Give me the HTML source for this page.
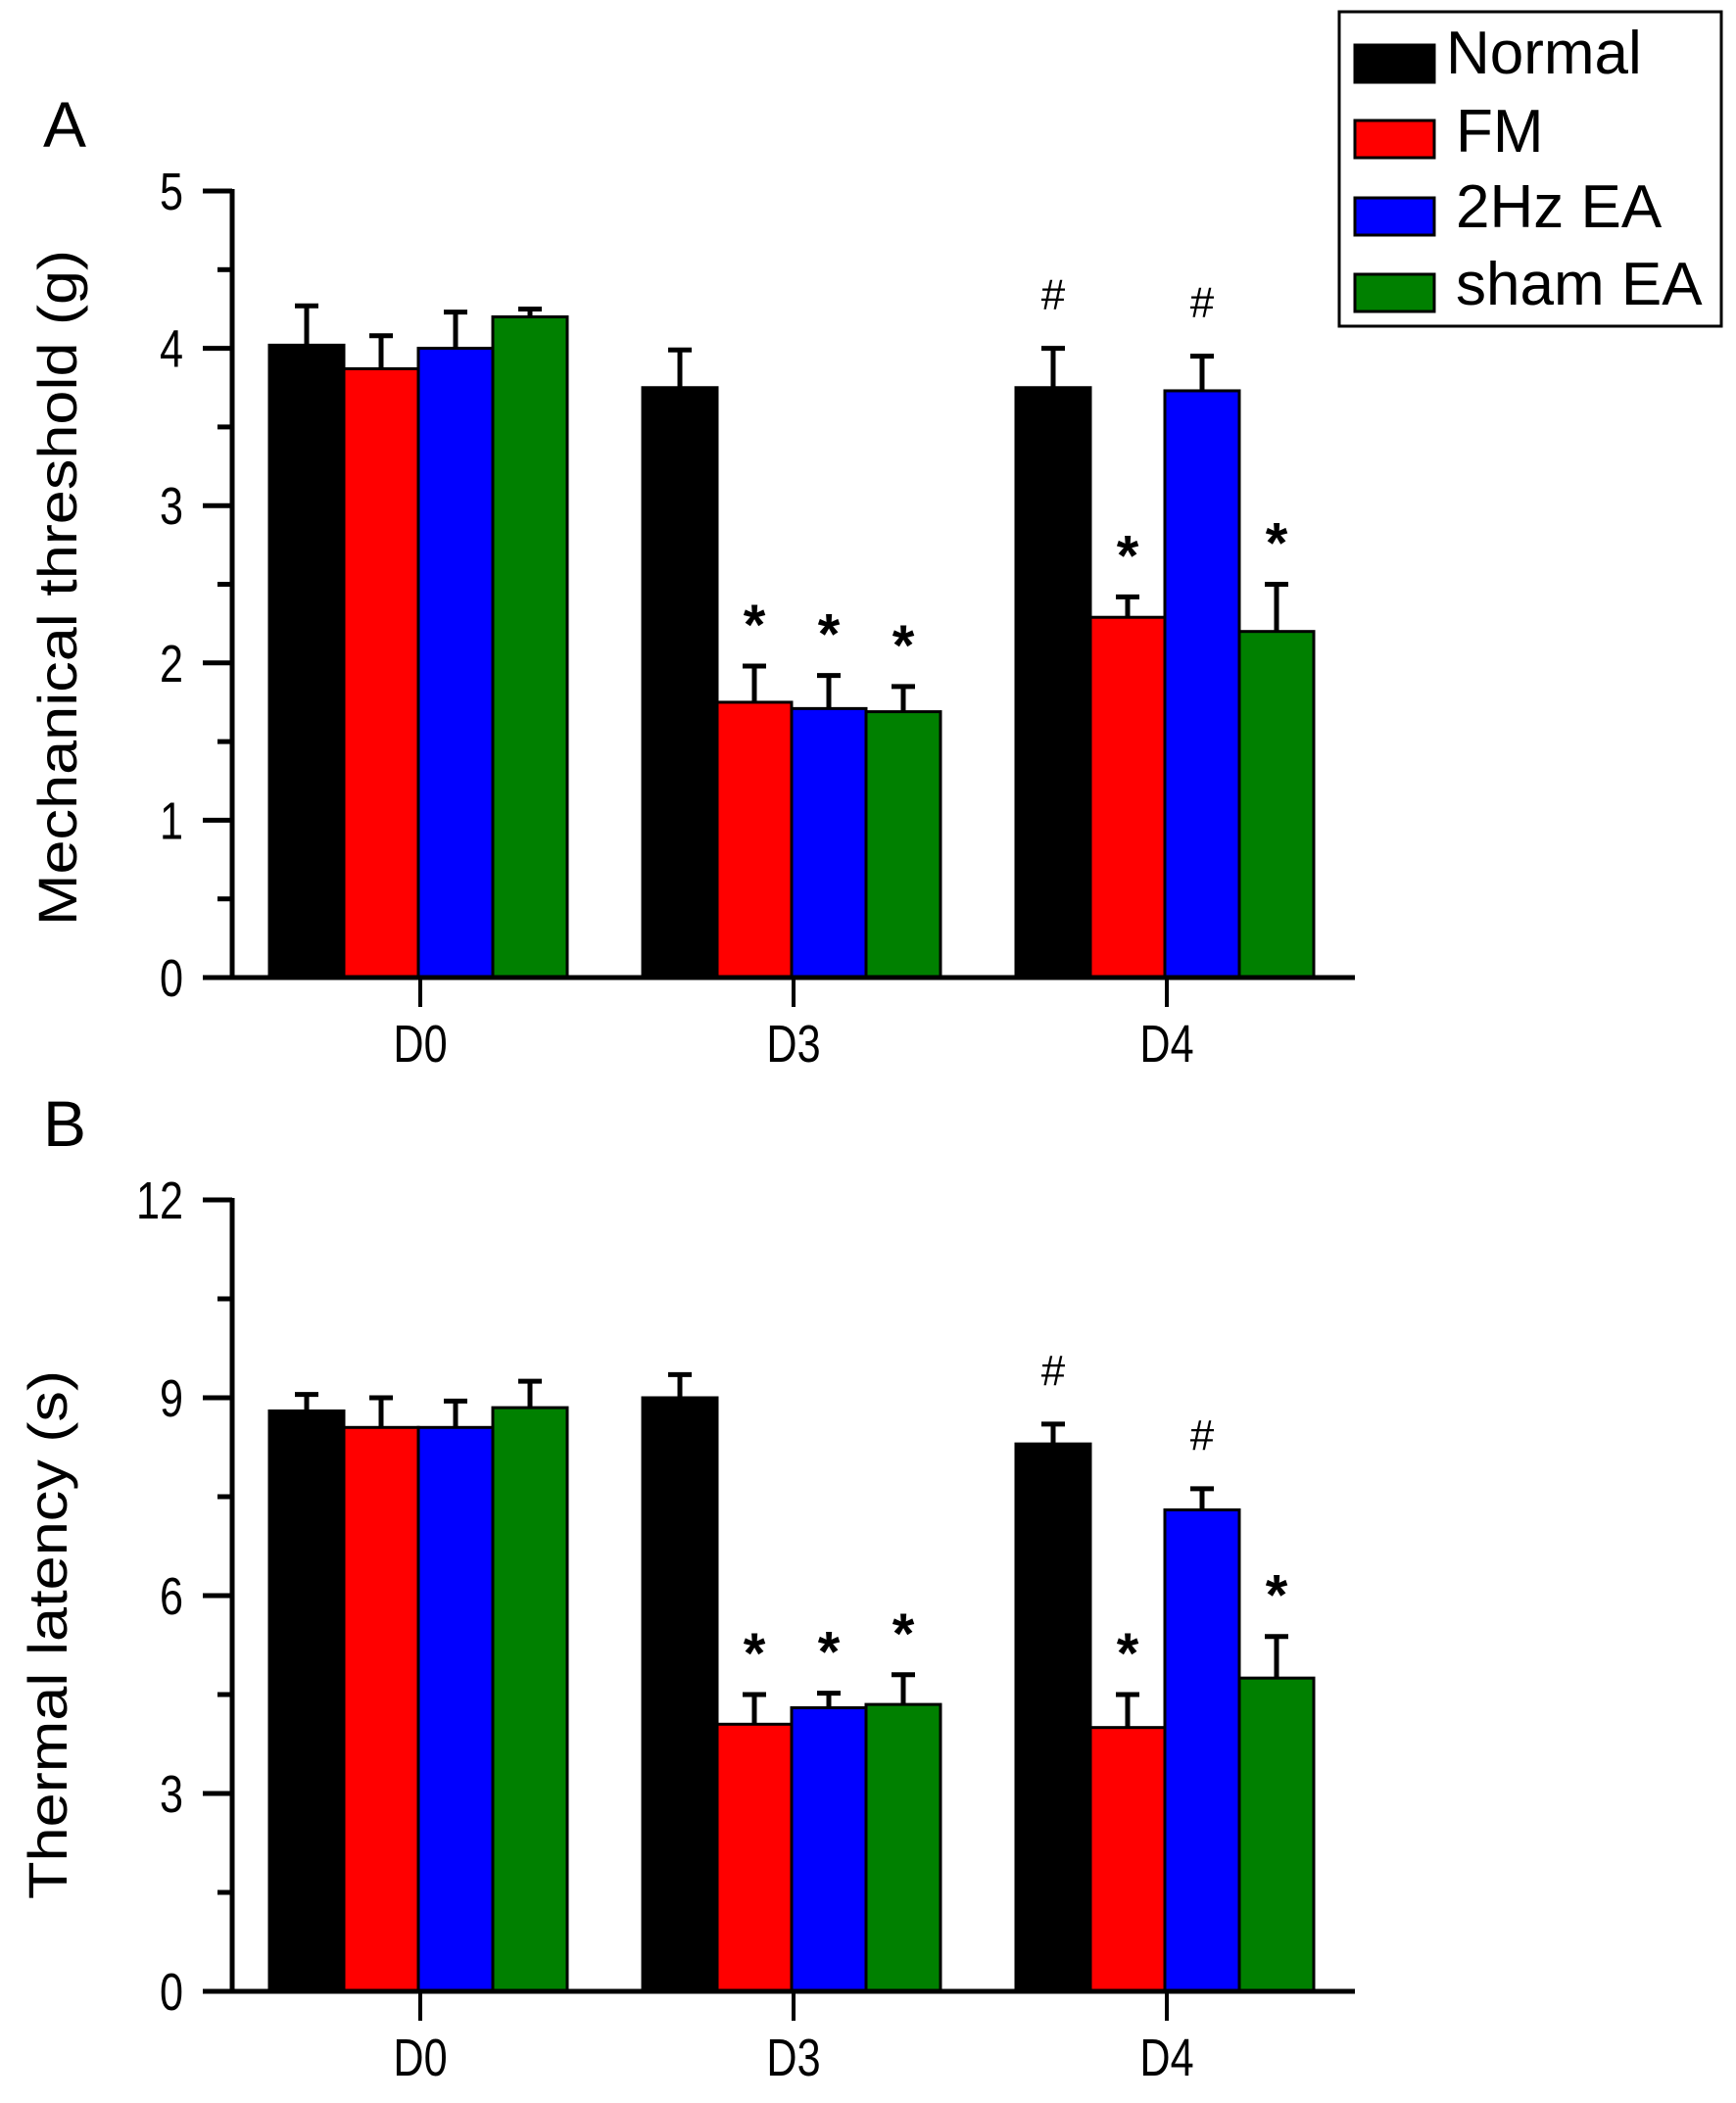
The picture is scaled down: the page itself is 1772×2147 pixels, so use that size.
<!DOCTYPE html>
<html><head><meta charset="utf-8">
<style>
html,body{margin:0;padding:0;background:#fff;}
svg{display:block;font-family:"Liberation Sans",Arial,sans-serif;}
</style></head>
<body>
<svg id="chart" width="1772" height="2147" viewBox="0 0 1772 2147" xmlns="http://www.w3.org/2000/svg">
<text x="44" y="150" font-size="66">A</text>
<text x="44" y="1170" font-size="66">B</text>
<text transform="translate(78,600) rotate(-90)" text-anchor="middle" font-size="56" textLength="690" lengthAdjust="spacingAndGlyphs">Mechanical threshold (g)</text>
<text transform="translate(68,1669) rotate(-90)" text-anchor="middle" font-size="56" textLength="540" lengthAdjust="spacingAndGlyphs">Thermal latency (s)</text>
<g id="legend">
<rect x="1367" y="12" width="390" height="321" fill="#fff" stroke="#000" stroke-width="3"/>
<rect x="1383" y="46" width="81" height="38" fill="#000" stroke="#000" stroke-width="3"/>
<text x="1476" y="75" font-size="62">Normal</text>
<rect x="1383" y="123" width="81" height="38" fill="#ff0000" stroke="#000" stroke-width="3"/>
<text x="1486" y="155" font-size="62">FM</text>
<rect x="1383" y="202" width="81" height="38" fill="#0000ff" stroke="#000" stroke-width="3"/>
<text x="1486" y="232" font-size="62">2Hz EA</text>
<rect x="1383" y="280" width="81" height="38" fill="#008000" stroke="#000" stroke-width="3"/>
<text x="1486" y="311" font-size="62">sham EA</text>
</g>
</svg>
<script>
const categories = ["D0","D3","D4"];
const seriesNames = ["Normal","FM","2Hz EA","sham EA"];
const colors = ["#000000","#ff0000","#0000ff","#008000"];
// Panel A: mechanical threshold (g)
const aNormal = [4.02,3.75,3.75];
const aFM = [3.87,1.75,2.29];
const a2Hz = [4.00,1.71,3.73];
const aSham = [4.20,1.69,2.20];
const aNormalErr = [0.25,0.24,0.25];
const aFMErr = [0.21,0.23,0.13];
const a2HzErr = [0.23,0.21,0.22];
const aShamErr = [0.05,0.16,0.30];
const aTicks = [0,1,2,3,4,5];
const aMarks = [["","","",""],["","*","*","*"],["#","*","#","*"]];
// Panel B: thermal latency (s)
const bNormal = [8.80,9.00,8.30];
const bFM = [8.55,4.05,4.00];
const b2Hz = [8.55,4.30,7.30];
const bSham = [8.85,4.35,4.75];
const bNormalErr = [0.25,0.35,0.30];
const bFMErr = [0.45,0.45,0.50];
const b2HzErr = [0.40,0.22,0.32];
const bShamErr = [0.40,0.45,0.63];
const bTicks = [0,3,6,9,12];
const bMarks = [["","","",""],["","*","*","*"],["#","*","#","*"]];

const NS = "http://www.w3.org/2000/svg";
const svg = document.getElementById("chart");
function mk(tag, attrs, parent){
  const e = document.createElementNS(NS, tag);
  for (const k in attrs) e.setAttribute(k, attrs[k]);
  (parent||svg).appendChild(e);
  return e;
}
const centers = [427, 808, 1189];
const barW = 76;
function xBar(ci, si){ return centers[ci] - 2*barW + si*barW; }

function panel(prefix, y0, yTop, maxV, ticks, minorStep, series, errs, marks){
  const g = mk("g", {});
  
  
  const yS = v => y0 - (v/maxV)*(y0 - yTop);
  series.forEach((vals, si) => {
    vals.forEach((v, ci) => {
      const r = mk("rect", {x: xBar(ci,si), y: yS(v), width: barW, height: y0 - yS(v), fill: colors[si], stroke:"#000", "stroke-width":3}, g);
      
      
      const cx = xBar(ci,si) + barW/2;
      const top = yS(v + errs[si][ci]);
      const el = mk("path", {d:`M${cx},${yS(v)} V${top} M${cx-12},${top} H${cx+12}`, stroke:"#000", "stroke-width":5, fill:"none"}, g);
      
      
      const m = marks[ci][si];
      if (m) {
        const t = mk("text", {x: cx, y: top - (m === "#" ? 40 : 22), "text-anchor":"middle", "font-size": m === "#" ? 44 : 58, "font-weight": m==="*"?"bold":"normal"}, g);
        t.textContent = m;
        
        
      }
    });
  });
  const ya = mk("line", {x1:237, y1:yTop-2, x2:237, y2:y0, stroke:"#000", "stroke-width":5}, g);
  
  
  const xa = mk("line", {x1:208, y1:y0, x2:1383, y2:y0, stroke:"#000", "stroke-width":5}, g);
  
  
  ticks.forEach(t => {
    const y = yS(t);
    mk("line", {x1:207, y1:y, x2:237, y2:y, stroke:"#000", "stroke-width":5}, g);
    const tl = mk("text", {x:187, y:y+19, "text-anchor":"end", "font-size":54, transform:`translate(187,0) scale(0.8,1) translate(-187,0)`}, g);
    tl.textContent = t;
    
    
  });
  for (let v = minorStep; v < maxV; v += 2*minorStep) {
    const y = yS(v);
    mk("line", {x1:222, y1:y, x2:237, y2:y, stroke:"#000", "stroke-width":5}, g);
  }
  categories.forEach((c, ci) => {
    const x = centers[ci] + 2;
    mk("line", {x1:x, y1:y0, x2:x, y2:y0+30, stroke:"#000", "stroke-width":4}, g);
    const tl = mk("text", {x:x, y:y0+86, "text-anchor":"middle", "font-size":54, transform:`translate(${x},0) scale(0.8,1) translate(${-x},0)`}, g);
    tl.textContent = c;
    
    
  });
}
panel("panel-a", 998, 195, 5, aTicks, 0.5,
  [aNormal,aFM,a2Hz,aSham], [aNormalErr,aFMErr,a2HzErr,aShamErr], aMarks);
panel("panel-b", 2033, 1225, 12, bTicks, 1.5,
  [bNormal,bFM,b2Hz,bSham], [bNormalErr,bFMErr,b2HzErr,bShamErr], bMarks);
</script>
</body></html>
